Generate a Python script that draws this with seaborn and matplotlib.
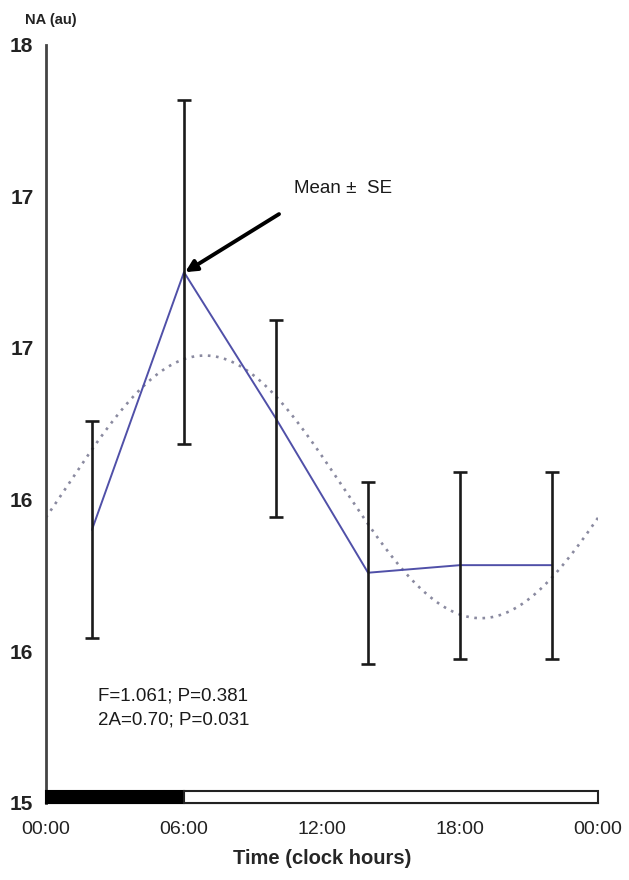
import numpy as np
import pandas as pd
import matplotlib
matplotlib.use("Agg")
import matplotlib.pyplot as plt
from matplotlib.patches import Rectangle
from matplotlib.ticker import FuncFormatter
import seaborn as sns

# sampling times (clock hours) and NA values
hours = [2, 6, 10, 14, 18, 22]
na_mean = [16.08, 17.10, 16.52, 15.91, 15.94, 15.94]
na_se = [0.43, 0.68, 0.39, 0.36, 0.37, 0.37]

# cosinor fit parameters
mesor = 16.25
amplitude = 0.52
acrophase = 6.9
period = 24

x_ticks = [0, 6, 12, 18, 24]
x_labels = ["00:00", "06:00", "12:00", "18:00", "00:00"]
y_ticks = [15, 15.6, 16.2, 16.8, 17.4, 18]

stats_text = "F=1.061; P=0.381\n2A=0.70; P=0.031"

sns.set_style("white")
plt.rcParams['font.family'] = ['Liberation Sans', 'DejaVu Sans']

fig = plt.figure(figsize=(6.29, 8.80), dpi=100)
ax = fig.add_axes([0.073, 0.088, 0.878, 0.861])

df = pd.DataFrame({"hour": hours, "na": na_mean})

# fitted cosine curve
t = np.linspace(0, 24, 300)
fit = mesor + amplitude * np.cos(2 * np.pi * (t - acrophase) / period)
ax.plot(t, fit, color='#8a8aa0', linestyle=(0, (1, 2.1)), linewidth=1.9, zorder=2)

sns.lineplot(data=df, x="hour", y="na", ax=ax, color='#5050a8', linewidth=1.4, zorder=3)
ax.errorbar(hours, na_mean, yerr=na_se, fmt='none', ecolor='#1a1a1a',
            elinewidth=1.9, capsize=5, capthick=1.9, zorder=4)

# light/dark bar along the time axis
bar_h = 0.046
ax.add_patch(Rectangle((0, 15), 6, bar_h, facecolor='black', edgecolor='black',
                       linewidth=1.5, zorder=5, clip_on=False))
ax.add_patch(Rectangle((6, 15), 18, bar_h, facecolor='white', edgecolor='#222222',
                       linewidth=1.5, zorder=5, clip_on=False))

ax.annotate("", xy=(6.05, 17.10), xytext=(10.13, 17.33),
            arrowprops=dict(arrowstyle='-|>', color='black', lw=2.8,
                            mutation_scale=17, shrinkA=0, shrinkB=0),
            zorder=6)
ax.text(10.8, 17.43, "Mean \u00b1  SE", fontsize=13.5, color='#1a1a1a',
        va='center', ha='left')

ax.text(2.25, 15.375, stats_text, fontsize=13.5, color='#1a1a1a',
        va='center', ha='left', linespacing=1.55)

ax.set_xlim(0, 24)
ax.set_ylim(15, 18)
ax.set_xticks(x_ticks)
ax.set_xticklabels(x_labels)
ax.set_yticks(y_ticks)
ax.yaxis.set_major_formatter(FuncFormatter(lambda v, p: f"{v:.0f}"))
ax.tick_params(axis='y', direction='out', length=5, width=1.5, labelsize=15,
               colors='#333333', labelcolor='#222222', pad=4)
ax.tick_params(axis='x', direction='out', length=3, width=1.5, labelsize=14,
               colors='#333333', labelcolor='#222222', pad=10)
for lab in ax.get_yticklabels():
    lab.set_fontweight('bold')

for side in ['top', 'right']:
    ax.spines[side].set_visible(False)
ax.spines['left'].set_color('#444444')
ax.spines['left'].set_linewidth(2)
ax.spines['bottom'].set_color('#222222')
ax.spines['bottom'].set_linewidth(1.5)

ax.set_xlabel("Time (clock hours)", fontsize=14.5, fontweight='bold', labelpad=8)
ax.set_ylabel("")
fig.text(0.04, 0.977, "NA (au)", fontsize=10.5, fontweight='bold', color='#222222',
         ha='left', va='center')

fig.savefig("out.png", dpi=100, facecolor='white')
